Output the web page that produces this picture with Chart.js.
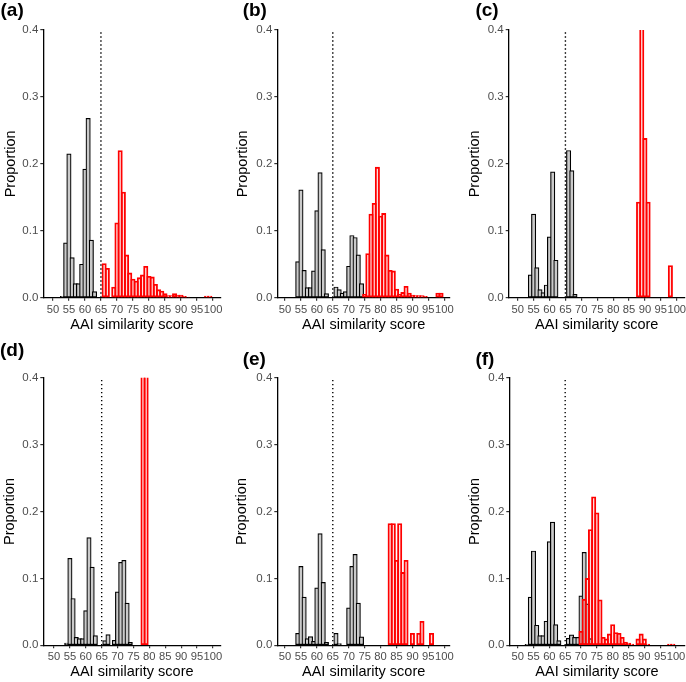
<!DOCTYPE html>
<html>
<head>
<meta charset="utf-8">
<script src="https://cdn.jsdelivr.net/npm/chart.js@4.4.1/dist/chart.umd.min.js"></script>
<style>
  html, body { margin: 0; padding: 0; width: 686px; height: 682px; overflow: hidden; background: #fff; }
  canvas { position: absolute; }
  .tag { position: absolute; font: bold 19px "Liberation Sans", Arial, sans-serif; line-height: 19px; color: #000; white-space: nowrap; }
</style>
</head>
<body>
<script>
// axis ticks and texts
const xTicks = [50, 55, 60, 65, 70, 75, 80, 85, 90, 95, 100];
const xTickLabels = ['50', '55', '60', '65', '70', '75', '80', '85', '90', '95', '100'];
const yTicks = [0, 0.1, 0.2, 0.3, 0.4];
const yTickLabels = ['0.0', '0.1', '0.2', '0.3', '0.4'];
const panelTags = ['(a)', '(b)', '(c)', '(d)', '(e)', '(f)'];
const xTitle = 'AAI similarity score';
const yTitle = 'Proportion';
const cutoff = 65;

// (a)
const aGreyBins = [53, 54, 55, 56, 57, 58, 59, 60, 61, 62, 63];
const aGreyProp = [0.002, 0.082, 0.215, 0.060, 0.021, 0.021, 0.050, 0.192, 0.268, 0.086, 0.009];
const aRedBins = [66, 67, 69, 70, 71, 72, 73, 74, 75, 76, 77, 78, 79, 80, 81, 82, 83, 84, 85, 86, 87, 88, 89, 90, 91, 92, 98, 99];
const aRedProp = [0.051, 0.044, 0.016, 0.112, 0.220, 0.158, 0.064, 0.037, 0.028, 0.025, 0.030, 0.034, 0.047, 0.032, 0.031, 0.020, 0.012, 0.010, 0.006, 0.003, 0.003, 0.006, 0.004, 0.004, 0.002, 0.001, 0.0025, 0.0025];

// (b)
const bGreyBins = [54, 55, 56, 57, 58, 59, 60, 61, 62, 63, 66, 67, 68, 69, 70, 71, 72, 73, 74];
const bGreyProp = [0.054, 0.161, 0.041, 0.015, 0.015, 0.040, 0.130, 0.187, 0.072, 0.006, 0.016, 0.012, 0.007, 0.009, 0.047, 0.093, 0.090, 0.064, 0.021];
const bRedBins = [75, 76, 77, 78, 79, 80, 81, 82, 83, 84, 85, 86, 87, 88, 89, 90, 91, 92, 93, 94, 98, 99];
const bRedProp = [0.005, 0.066, 0.125, 0.141, 0.195, 0.122, 0.126, 0.064, 0.041, 0.040, 0.013, 0.005, 0.008, 0.017, 0.007, 0.004, 0.003, 0.003, 0.003, 0.002, 0.007, 0.007];

// (c)
const cGreyBins = [54, 55, 56, 57, 58, 59, 60, 61, 62, 66, 67, 68];
const cGreyProp = [0.034, 0.125, 0.045, 0.012, 0.0075, 0.019, 0.091, 0.188, 0.056, 0.220, 0.190, 0.005];
const cRedBins = [88, 89, 90, 91, 98];
const cRedProp = [0.143, 0.429, 0.238, 0.143, 0.048];

// (d)
const dGreyBins = [54, 55, 56, 57, 58, 59, 60, 61, 62, 63, 66, 67, 69, 70, 71, 72, 73, 74];
const dGreyProp = [0.0035, 0.130, 0.070, 0.012, 0.010, 0.010, 0.052, 0.161, 0.117, 0.0145, 0.007, 0.016, 0.0075, 0.080, 0.124, 0.127, 0.063, 0.0045];
const dRedBins = [78, 79];
const dRedProp = [0.5, 0.5];

// (e)
const eGreyBins = [54, 55, 56, 57, 58, 59, 60, 61, 62, 63, 66, 67, 70, 71, 72, 73, 74];
const eGreyProp = [0.018, 0.118, 0.072, 0.010, 0.013, 0.006, 0.086, 0.167, 0.094, 0.0045, 0.018, 0.0025, 0.056, 0.118, 0.136, 0.063, 0.0125];
const eRedBins = [83, 84, 85, 86, 87, 88, 90, 92, 93, 96];
const eRedProp = [0.182, 0.182, 0.127, 0.182, 0.109, 0.127, 0.018, 0.018, 0.036, 0.018];

// (f)
const fGreyBins = [53, 54, 55, 56, 57, 58, 59, 60, 61, 62, 63, 66, 67, 68, 69, 70, 71, 72, 73];
const fGreyProp = [0.0015, 0.072, 0.141, 0.030, 0.0145, 0.0145, 0.036, 0.155, 0.184, 0.031, 0.007, 0.0105, 0.0155, 0.012, 0.012, 0.074, 0.139, 0.062, 0.010];
const fRedBins = [70, 71, 72, 73, 74, 75, 76, 77, 78, 79, 80, 81, 82, 83, 84, 85, 86, 88, 89, 90, 91, 98, 99];
const fRedProp = [0.021, 0.069, 0.100, 0.173, 0.222, 0.198, 0.068, 0.012, 0.0095, 0.017, 0.031, 0.019, 0.018, 0.012, 0.005, 0.0035, 0.002, 0.0095, 0.017, 0.0095, 0.002, 0.002, 0.002];

const series = [
  [aGreyBins, aGreyProp, aRedBins, aRedProp],
  [bGreyBins, bGreyProp, bRedBins, bRedProp],
  [cGreyBins, cGreyProp, cRedBins, cRedProp],
  [dGreyBins, dGreyProp, dRedBins, dRedProp],
  [eGreyBins, eGreyProp, eRedBins, eRedProp],
  [fGreyBins, fGreyProp, fRedBins, fRedProp]
];

// page layout (pixels)
const rows = [
  { top: 0, h: 340, plotTop: 30, plotBottom: 297.7 },
  { top: 340, h: 342, plotTop: 377.7, plotBottom: 645.3 }
];
const cols = [0, 228, 456];
const boxes = [
  { col: 0, row: 0, axisX: 43.3, axisR: 220.7, xmin: 47.0, xmax: 102.4, yTitlePad: 2.2, tagX: 0.5, tagY: 0 },
  { col: 1, row: 0, axisX: 277.3, axisR: 450, xmin: 47.58, xmax: 101.8, yTitlePad: 6.2, tagX: 242.7, tagY: 0 },
  { col: 2, row: 0, axisX: 508.7, axisR: 684.7, xmin: 47.17, xmax: 102.5, yTitlePad: 10.2, tagX: 475.4, tagY: 0 },
  { col: 0, row: 1, axisX: 43.3, axisR: 220.5, xmin: 46.63, xmax: 102.4, yTitlePad: 1.5, tagX: 0, tagY: 340 },
  { col: 1, row: 1, axisX: 277.3, axisR: 450, xmin: 47.58, xmax: 101.8, yTitlePad: 5.2, tagX: 242.7, tagY: 349 },
  { col: 2, row: 1, axisX: 509.3, axisR: 684.7, xmin: 47.35, xmax: 102.75, yTitlePad: 10.2, tagX: 475.4, tagY: 349 }
];
const CANVAS_W = 250;
const X_AXIS_H = 35.5;
const BAR_BORDER = 1.2;

Chart.defaults.font.family = '"Liberation Sans", Arial, sans-serif';

function toXY(bins, vals) {
  return bins.map((b, k) => ({ x: b, y: vals[k] }));
}

function axisStyle() {
  return {
    grid: { display: true, drawOnChartArea: false, drawTicks: true, tickLength: 3, color: '#333333', lineWidth: 1.2, offset: false },
    border: { display: true, color: '#000000', width: 1.3 }
  };
}

boxes.forEach((bx, i) => {
  const row = rows[bx.row];
  const left = cols[bx.col];
  const canvas = document.createElement('canvas');
  canvas.width = CANVAS_W;
  canvas.height = row.h;
  canvas.style.left = left + 'px';
  canvas.style.top = row.top + 'px';
  document.body.appendChild(canvas);

  const tag = document.createElement('div');
  tag.className = 'tag';
  tag.textContent = panelTags[i];
  tag.style.left = bx.tagX + 'px';
  tag.style.top = bx.tagY + 'px';
  document.body.appendChild(tag);

  // one bin = one x unit; widen by the border so neighbours share a single edge
  const pxPerUnit = (bx.axisR - bx.axisX) / (bx.xmax - bx.xmin);
  const barW = pxPerUnit + BAR_BORDER;
  const [gBins, gVals, rBins, rVals] = series[i];
  const yw = bx.axisX - left;

  const barCommon = {
    borderWidth: BAR_BORDER,
    borderSkipped: false,
    grouped: false,
    barThickness: barW,
    barPercentage: 1,
    categoryPercentage: 1,
    clip: 0
  };

  new Chart(canvas, {
    type: 'bar',
    data: {
      datasets: [
        {
          type: 'line',
          data: [{ x: cutoff, y: 0 }, { x: cutoff, y: 0.4 }],
          borderColor: '#000000',
          borderWidth: 1.4,
          borderDash: [1.4, 2.6],
          pointRadius: 0,
          fill: false,
          order: 0,
          clip: 0
        },
        Object.assign({
          data: toXY(rBins, rVals),
          backgroundColor: 'rgba(255, 0, 0, 0.13)',
          borderColor: '#ff0000',
          order: 1
        }, barCommon),
        Object.assign({
          data: toXY(gBins, gVals),
          backgroundColor: '#cacaca',
          borderColor: '#000000',
          order: 2
        }, barCommon)
      ]
    },
    options: {
      responsive: false,
      animation: false,
      devicePixelRatio: 1,
      layout: {
        padding: {
          top: row.plotTop - row.top,
          left: 0,
          right: CANVAS_W - (bx.axisR - left),
          bottom: row.h - (row.plotBottom - row.top) - X_AXIS_H
        }
      },
      plugins: { legend: { display: false }, tooltip: { enabled: false }, title: { display: false } },
      scales: {
        x: Object.assign(axisStyle(), {
          type: 'linear',
          min: bx.xmin,
          max: bx.xmax,
          offset: false,
          afterBuildTicks: s => { s.ticks = xTicks.map(v => ({ value: v })); },
          afterFit: s => { s.height = X_AXIS_H; },
          ticks: {
            autoSkip: false, maxRotation: 0, minRotation: 0, padding: 2,
            color: '#4d4d4d', font: { size: 11.2 },
            callback: (v, k) => xTickLabels[k]
          },
          title: { display: true, text: xTitle, color: '#000000', font: { size: 14.5 }, padding: 0 }
        }),
        y: Object.assign(axisStyle(), {
          type: 'linear',
          min: 0,
          max: 0.4,
          afterBuildTicks: s => { s.ticks = yTicks.map(v => ({ value: v })); },
          afterFit: s => { s.width = yw; },
          ticks: {
            padding: 2, color: '#4d4d4d', font: { size: 11.5 },
            callback: (v, k) => yTickLabels[k]
          },
          title: { display: true, text: yTitle, color: '#000000', font: { size: 14.5 }, padding: { top: bx.yTitlePad, bottom: 0 } }
        })
      }
    }
  });
});
</script>
</body>
</html>
